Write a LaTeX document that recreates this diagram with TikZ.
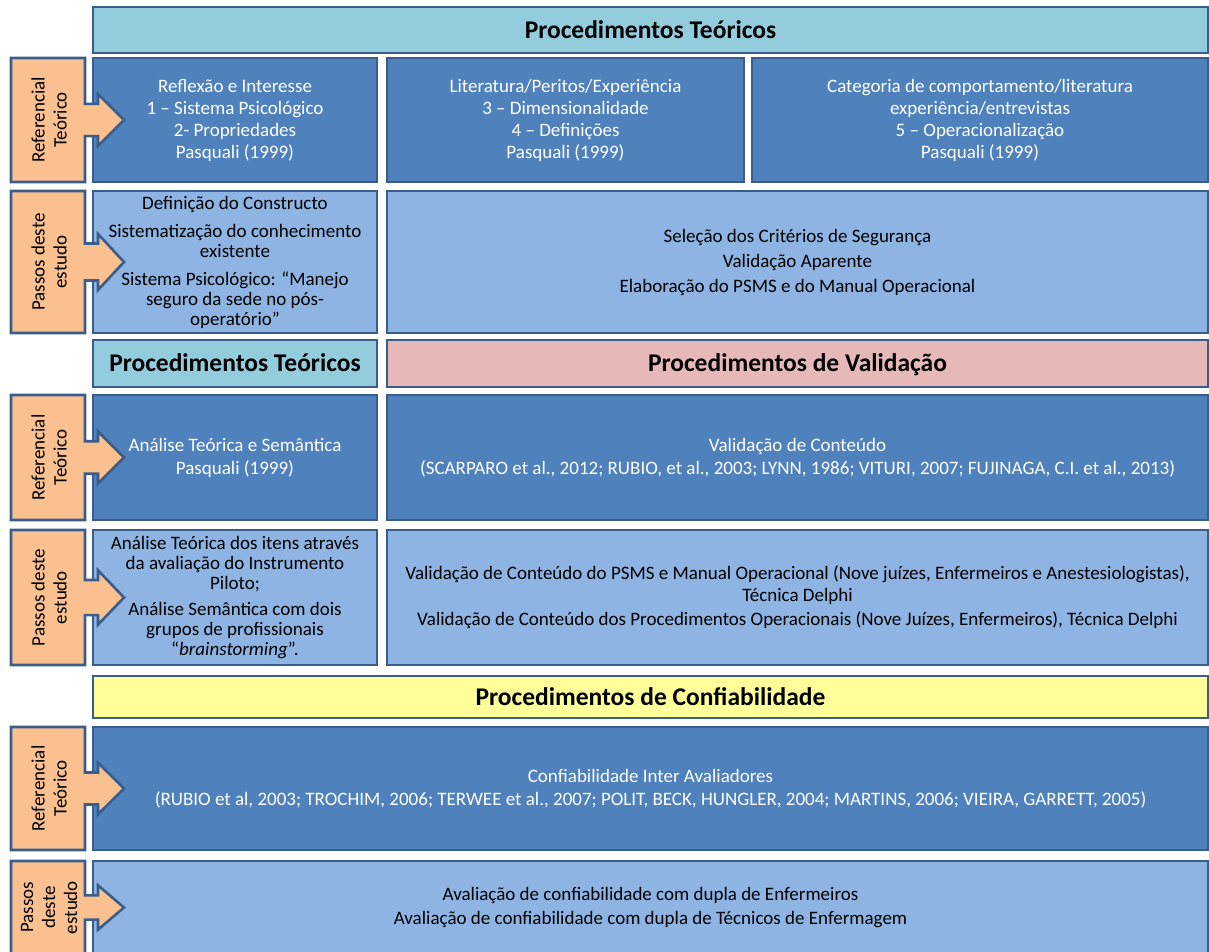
\documentclass[tikz,border=0pt]{standalone}
\usepackage{fontspec}
\setmainfont{Carlito}

\definecolor{edge}{HTML}{3A5D8B}
\definecolor{hdr}{HTML}{93CDDD}
\definecolor{dark}{HTML}{4F81BD}
\definecolor{light}{HTML}{8DB4E2}
\definecolor{pinkh}{HTML}{E6B9B8}
\definecolor{yellowh}{HTML}{FFFF99}
\definecolor{peach}{HTML}{FAC090}

\tikzset{
  % a rectangle spanning the corners (x1,y1) and (x2,y2)
  span/.style n args={4}{minimum width={(#3-#1)*1pt}, minimum height={(#4-#2)*1pt},
    at={({(#1+#3)/2},{(#2+#4)/2})}, anchor=center},
  cell/.style={draw=edge, line width=2.6pt, inner sep=0pt, align=center,
    font=\fontsize{19}{20}\selectfont},
  darkcell/.style={cell, fill=dark, text=white},
  lightcell/.style={cell, fill=light, text=black},
  headcell/.style={cell, fill=#1, text=black, text height=18pt, text depth=2pt,
    font=\fontsize{25.5}{28}\selectfont\bfseries},
  tab/.style={draw=edge, line width=2.6pt, fill=peach, line join=miter},
  tablabel/.style={rotate=90, align=center, text=black, font=\fontsize{19}{22}\selectfont}
}

% side tab: box with an arrow pointing into the row; args: top, bottom, name, label
\newcommand\tabarrow[4]{%
  \pgfmathsetmacro\tbc{(#1+#2)/2}%
  \pgfmathsetmacro\tbh{0.12*(#2-#1)+11}%
  \pgfmathsetmacro\tbn{0.13*(#2-#1)}%
  \draw[tab] (11,#1) -- (85,#1) -- (85,\tbc-\tbn) -- (98,\tbc-\tbn)
    -- (98,\tbc-\tbh) -- (124,\tbc) -- (98,\tbc+\tbh) -- (98,\tbc+\tbn)
    -- (85,\tbc+\tbn) -- (85,#2) -- (11,#2) -- cycle;
  \node[tablabel] (#3) at (49,\tbc) {#4};
}

\begin{document}
\begin{tikzpicture}[x=1pt, y=-1pt]
\useasboundingbox (0,0) rectangle (1209,951);
\clip (0,0) rectangle (1209,951);

% ---- theoretical procedures ----
\node[headcell=hdr, span={93}{7}{1208}{53}] (h1) {Procedimentos Teóricos};

\node[darkcell, span={93}{58}{377}{182}] (r1a)
  {Reflexão e Interesse\\[2pt] 1 – Sistema Psicológico\\[2pt] 2- Propriedades\\[2pt] Pasquali (1999)};
\node[darkcell, span={387}{58}{744}{182}] (r1b)
  {Literatura/Peritos/Experiência\\[2pt] 3 – Dimensionalidade\\[2pt] 4 – Definições\\[2pt] Pasquali (1999)};
\node[darkcell, span={752}{58}{1208}{182}] (r1c)
  {Categoria de comportamento/literatura\\[2pt] experiência/entrevistas\\[2pt] 5 – Operacionalização\\[2pt] Pasquali (1999)};

\node[lightcell, span={93}{191}{377}{333}] (r2a)
  {Definição do Constructo\\[8pt] Sistematização do conhecimento\\ existente\\[8pt]
   Sistema Psicológico: “Manejo\\ seguro da sede no pós-\\ operatório”};
\node[lightcell, span={387}{191}{1208}{333}] (r2b)
  {Seleção dos Critérios de Segurança\\[5pt] Validação Aparente\\[5pt] Elaboração do PSMS e do Manual Operacional};

% ---- validation procedures ----
\node[headcell=hdr, span={93}{340}{377}{387}] (h2a) {Procedimentos Teóricos};
\node[headcell=pinkh, span={387}{340}{1208}{387}] (h2b) {Procedimentos de Validação};

\node[darkcell, span={93}{395}{377}{520}] (r3a)
  {Análise Teórica e Semântica\\[3pt] Pasquali (1999)};
\node[darkcell, span={387}{395}{1208}{520}] (r3b)
  {Validação de Conteúdo\\[3pt] (SCARPARO et al., 2012; RUBIO, et al., 2003; LYNN, 1986; VITURI, 2007; FUJINAGA, C.I. et al., 2013)};

\node[lightcell, span={93}{530}{377}{665}] (r4a)
  {Análise Teórica dos itens através\\ da avaliação do Instrumento\\ Piloto;\\[6pt]
   Análise Semântica com dois\\ grupos de profissionais\\ “\textit{brainstorming}”.};
\node[lightcell, span={387}{530}{1208}{665}] (r4b)
  {Validação de Conteúdo do PSMS e Manual Operacional (Nove juízes, Enfermeiros e Anestesiologistas),\\[2pt]
   Técnica Delphi\\[4pt]
   Validação de Conteúdo dos Procedimentos Operacionais (Nove Juízes, Enfermeiros), Técnica Delphi};

% ---- reliability procedures ----
\node[headcell=yellowh, span={93}{676}{1208}{718}] (h3) {Procedimentos de Confiabilidade};

\node[darkcell, span={93}{727}{1208}{850}] (r5)
  {Confiabilidade Inter Avaliadores\\[3pt]
   (RUBIO et al, 2003; TROCHIM, 2006; TERWEE et al., 2007; POLIT, BECK, HUNGLER, 2004; MARTINS, 2006; VIEIRA, GARRETT, 2005)};

\node[lightcell, span={93}{861}{1208}{954}] (r6)
  {Avaliação de confiabilidade com dupla de Enfermeiros\\[4pt]
   Avaliação de confiabilidade com dupla de Técnicos de Enfermagem};

% ---- side tabs ----
\tabarrow{58}{182}{t1}{Referencial\\Teórico}
\tabarrow{191}{333}{t2}{Passos deste\\estudo}
\tabarrow{395}{520}{t3}{Referencial\\Teórico}
\tabarrow{530}{665}{t4}{Passos deste\\estudo}
\tabarrow{727}{850}{t5}{Referencial\\Teórico}
\tabarrow{861}{954}{t6}{Passos\\deste\\estudo}
\end{tikzpicture}
\end{document}
